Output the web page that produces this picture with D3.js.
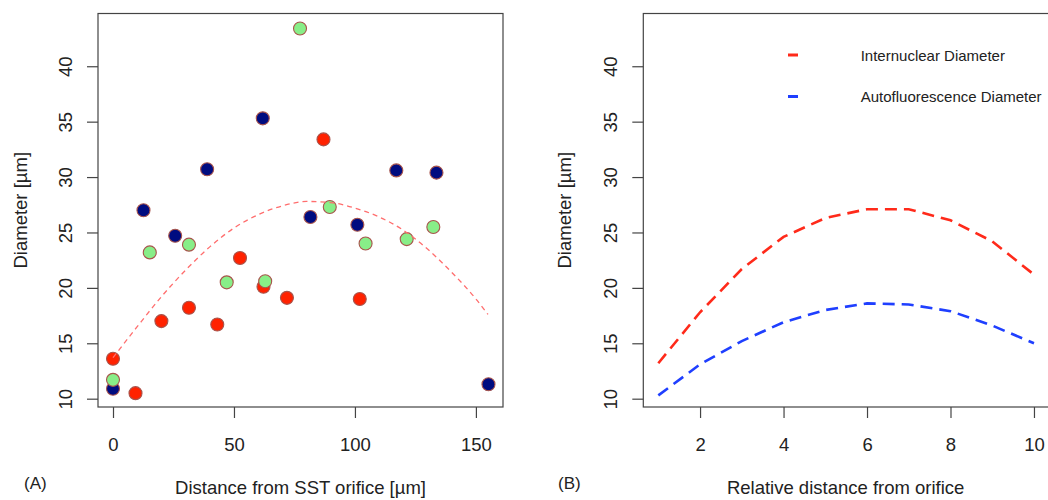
<!DOCTYPE html>
<html>
<head>
<meta charset="utf-8">
<script src="https://cdn.jsdelivr.net/npm/d3@7"></script>
<style>
  body { margin: 0; background: #fff; }
  svg { display: block; font-family: "Liberation Sans", Arial, sans-serif; }
</style>
</head>
<body>
<svg id="chart" width="1048" height="500"></svg>
<script>
// panel A: measured diameters vs distance from orifice
const redX   = [0, 9.3, 20.0, 31.4, 43.1, 52.5, 62.2, 71.9, 87.0, 102.0];
const redY   = [13.6, 10.5, 17.0, 18.2, 16.7, 22.7, 20.1, 19.1, 33.4, 19.0];
const navyX  = [0, 12.6, 25.7, 38.9, 61.9, 81.6, 101.0, 117.1, 133.7, 155.2];
const navyY  = [10.9, 27.0, 24.7, 30.7, 35.3, 26.4, 25.7, 30.6, 30.4, 11.3];
const greenX = [0, 15.2, 31.4, 47.0, 62.9, 77.3, 89.6, 104.4, 121.4, 132.4];
const greenY = [11.7, 23.2, 23.9, 20.5, 20.6, 43.4, 27.3, 24.0, 24.4, 25.5];

// fitted trend
const fitX = [0, 10, 20, 30, 40, 50, 60, 70, 80, 90, 100, 110, 120, 130, 140, 150, 155];
const fitY = [13.7, 16.5, 19.2, 21.6, 23.7, 25.4, 26.6, 27.4, 27.8, 27.7, 27.2, 26.4, 25.2, 23.5, 21.4, 19.0, 17.6];

// panel B
const relDist = [1, 2, 3, 4, 5, 6, 7, 8, 9, 10];
const internuclear = [13.2, 17.8, 21.7, 24.6, 26.3, 27.1, 27.1, 26.1, 24.2, 21.2];
const autofluor = [10.3, 13.1, 15.2, 16.9, 18.0, 18.6, 18.5, 17.9, 16.6, 15.0];

const yTicks = [10, 15, 20, 25, 30, 35, 40];
const xTicksA = [0, 50, 100, 150];
const xTicksB = [2, 4, 6, 8, 10];
const legendLabels = ["Internuclear Diameter", "Autofluorescence Diameter"];

const svg = d3.select("#chart");
const plotTop = 13.5, plotBottom = 407;
const fs = 18.5;

const y = d3.scaleLinear().domain([9.25, 44.76]).range([plotBottom, plotTop]);
const xA = d3.scaleLinear().domain([-6.2, 161.2]).range([98, 503]);
const xB = d3.scaleLinear().domain([0.64, 10.36]).range([643.3, 1049]);

function frame(x, ticks, xTitle, tag, yTitleX, tagX) {
  const [l, r] = x.range();
  svg.append("rect")
    .attr("x", l).attr("y", plotTop)
    .attr("width", r - l).attr("height", plotBottom - plotTop)
    .attr("fill", "none").attr("stroke", "#444").attr("stroke-width", 1.2);

  const gx = svg.append("g")
    .attr("transform", `translate(0,${plotBottom})`)
    .call(d3.axisBottom(x).tickValues(ticks).tickSize(11).tickPadding(20).tickFormat(d3.format("d")));
  gx.select(".domain").remove();
  gx.selectAll("line").attr("stroke", "#444").attr("stroke-width", 1.2);
  gx.selectAll("text").attr("font-size", fs).attr("fill", "#222");

  const gy = svg.append("g")
    .attr("transform", `translate(${l},0)`)
    .call(d3.axisLeft(y).tickValues(yTicks).tickSize(11));
  gy.select(".domain").remove();
  gy.selectAll("line").attr("stroke", "#444").attr("stroke-width", 1.2);
  gy.selectAll("text")
    .attr("x", 0).attr("y", -26).attr("dy", null)
    .attr("text-anchor", "middle")
    .attr("transform", "rotate(-90)")
    .attr("font-size", fs).attr("fill", "#222");

  svg.append("text")
    .attr("x", (l + Math.min(r, 1048)) / 2).attr("y", 494)
    .attr("text-anchor", "middle").attr("font-size", fs).attr("fill", "#222")
    .text(xTitle);

  svg.append("text")
    .attr("transform", `translate(${yTitleX},${(plotTop + plotBottom) / 2}) rotate(-90)`)
    .attr("text-anchor", "middle").attr("font-size", fs).attr("fill", "#222")
    .text("Diameter [µm]");

  svg.append("text")
    .attr("x", tagX).attr("y", 489)
    .attr("font-size", 17).attr("fill", "#222")
    .text(tag);
}

frame(xA, xTicksA, "Distance from SST orifice [µm]", "(A)", 27, 24);
frame(xB, xTicksB, "Relative distance from orifice", "(B)", 571, 558);

// panel A points
const groups = [
  { xs: navyX, ys: navyY, fill: "#000c80" },
  { xs: redX, ys: redY, fill: "#ff2200" },
  { xs: greenX, ys: greenY, fill: "#88ee88" }
];
groups.forEach(g => {
  svg.append("g").selectAll("circle")
    .data(g.xs.map((d, i) => [d, g.ys[i]]))
    .enter().append("circle")
    .attr("cx", d => xA(d[0]))
    .attr("cy", d => y(d[1]))
    .attr("r", 6.5)
    .attr("fill", g.fill)
    .attr("stroke", "#a8544c")
    .attr("stroke-width", 1.1);
});

const fitLine = d3.line().x(d => xA(d[0])).y(d => y(d[1])).curve(d3.curveMonotoneX);
svg.append("path")
  .attr("d", fitLine(fitX.map((d, i) => [d, fitY[i]])))
  .attr("fill", "none")
  .attr("stroke", "#ff6e6e")
  .attr("stroke-width", 1.3)
  .attr("stroke-dasharray", "5,4");

// panel B lines
const lineB = d3.line().x(d => xB(d[0])).y(d => y(d[1]));
const seriesB = [
  { vals: internuclear, color: "#ff2a1a" },
  { vals: autofluor, color: "#1f3fff" }
];
seriesB.forEach(s => {
  svg.append("path")
    .attr("d", lineB(relDist.map((d, i) => [d, s.vals[i]])))
    .attr("fill", "none")
    .attr("stroke", s.color)
    .attr("stroke-width", 2.6)
    .attr("stroke-dasharray", "12,7");
});

// legend
const leg = svg.append("g");
legendLabels.forEach((lab, i) => {
  const ly = 55 + i * 41.5;
  leg.append("line")
    .attr("x1", 788).attr("x2", 798)
    .attr("y1", ly).attr("y2", ly)
    .attr("stroke", seriesB[i].color).attr("stroke-width", 3);
  leg.append("text")
    .attr("x", 860.7).attr("y", ly + 5.5)
    .attr("font-size", 15).attr("fill", "#222")
    .text(lab);
});
</script>
</body>
</html>
